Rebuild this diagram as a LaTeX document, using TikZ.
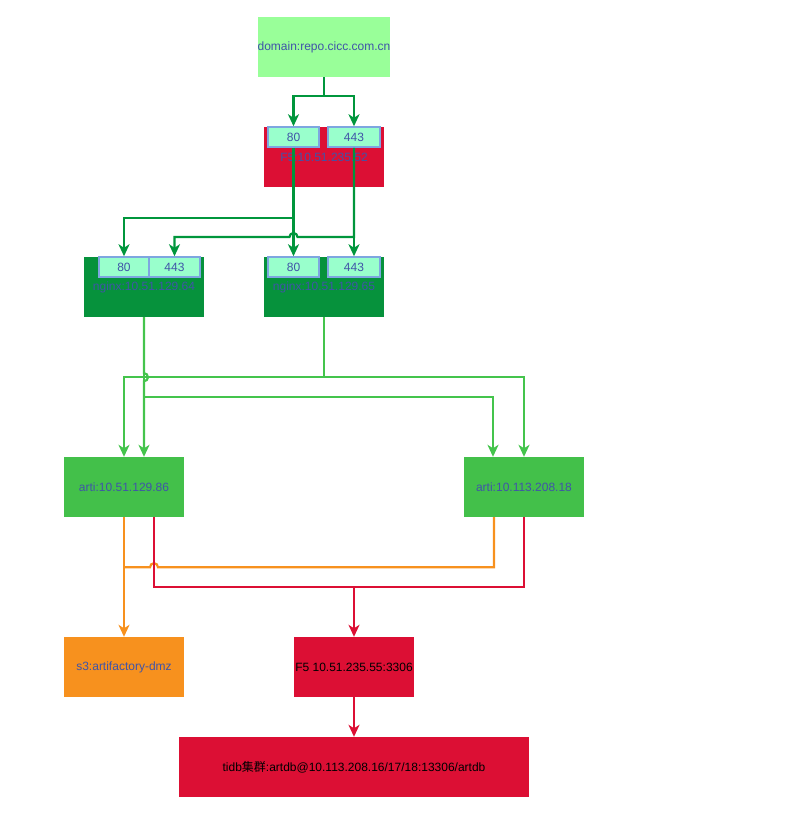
\documentclass[tikz,border=0pt]{standalone}
\usepackage{fontspec}
\setmainfont{Liberation Sans}
\newfontfamily\cjk{Noto Sans CJK SC}
\usetikzlibrary{arrows.meta,calc}

\definecolor{txtblue}{RGB}{64,84,168}
\definecolor{domfill}{RGB}{153,255,153}
\definecolor{crim}{RGB}{220,15,52}
\definecolor{ngfill}{RGB}{6,146,60}
\definecolor{artfill}{RGB}{67,192,74}
\definecolor{orfill}{RGB}{247,145,30}
\definecolor{portfill}{RGB}{153,255,204}
\definecolor{portline}{RGB}{126,166,224}
\definecolor{dgline}{RGB}{0,150,60}
\definecolor{lgline}{RGB}{68,196,76}
\definecolor{orline}{RGB}{247,145,30}
\definecolor{rdline}{RGB}{220,15,52}

\tikzset{
  box/.style={rectangle, inner sep=0pt, minimum width=120pt, minimum height=60pt,
    font=\fontsize{12pt}{14pt}\selectfont, text=txtblue},
  port/.style={rectangle, inner sep=0pt, minimum height=20pt, fill=portfill,
    draw=portline, line width=1.5pt, font=\fontsize{12pt}{14pt}\selectfont, text=txtblue},
  conn/.style={line width=2.2pt, -{Stealth[length=12pt,width=11pt,inset=3.5pt]}},
  wire/.style={line width=2.2pt},
}

\begin{document}
\begin{tikzpicture}[x=1pt,y=-1pt]
\useasboundingbox (0,0) rectangle (800,836);

% boxes
\node[box, fill=domfill, minimum width=130pt] (dom) at (324,47) {domain:repo.cicc.com.cn};
\node[box, fill=crim] (f5) at (324,157) {F5:10.51.235.52};
\node[box, fill=ngfill] (n1) at (144,287) {nginx:10.51.129.64};
\node[box, fill=ngfill] (n2) at (324,287) {nginx:10.51.129.65};
\node[box, fill=artfill] (a1) at (124,487) {arti:10.51.129.86};
\node[box, fill=artfill] (a2) at (524,487) {arti:10.113.208.18};
\node[box, fill=orfill] (s3) at (124,667) {s3:artifactory-dmz};
\node[box, fill=crim, text=black] (f5db) at (354,667) {F5 10.51.235.55:3306};
\node[box, fill=crim, text=black, minimum width=350pt] (tidb) at (354,767)
  {tidb{\cjk 集群}:artdb@10.113.208.16/17/18:13306/artdb};

% ports
\node[port, minimum width=51pt] (f5p80) at (293.5,137) {80};
\node[port, minimum width=52pt] (f5p443) at (354,137) {443};
\node[port, minimum width=50pt] (n1p80) at (124,267) {80};
\node[port, minimum width=51pt] (n1p443) at (174.5,267) {443};
\node[port, minimum width=51pt] (n2p80) at (293.5,267) {80};
\node[port, minimum width=52pt] (n2p443) at (354,267) {443};

% domain -> F5 ports
\draw[conn, dgline] (dom.south) -- ++(0,19) -| (f5p80.north);
\draw[conn, dgline] (dom.south) -- ++(0,19) -| (f5p443.north);

% F5 ports -> nginx ports
\draw[conn, dgline] (f5p80.south) -- (n2p80.north);
\draw[conn, dgline] (f5p80.south) -- ++(0,70) -| (n1p80.north);
\draw[conn, dgline] (f5p443.south) -- (n2p443.north);
\coordinate (busA) at (0,237);
\draw[conn, dgline] (f5p443.south) |- ($(f5p80.south |- busA)+(4,0)$)
  arc[start angle=0, end angle=-180, radius=4] -- (n1p443.north |- busA) -- (n1p443.north);

% nginx -> arti
\draw[conn, lgline] (n2.south) -- ++(0,60) -| (a1.north);
\draw[conn, lgline] (n2.south) -- ++(0,60) -| (a2.north);
\draw[conn, lgline] (n1.south) -- ++(0,56) arc[start angle=-90, end angle=90, radius=4]
  -- ($(a1.north)+(20,0)$);
\draw[conn, lgline] (n1.south) |- ($(a2.north)+(-31,-60)$) -- ($(a2.north)+(-31,0)$);

% arti -> s3
\draw[conn, orline] (a1.south) -- (s3.north);
\draw[wire, orline] ($(a2.south)+(-30,0)$) |- ($(a1.south)+(34,50)$)
  arc[start angle=0, end angle=-180, radius=4] -- ($(a1.south)+(0,50)$);

% arti -> F5 db -> tidb
\coordinate (busR) at (0,587);
\draw[wire, rdline] ($(a1.south)+(30,0)$) |- (a2.south |- busR) -- (a2.south);
\draw[conn, rdline] (f5db.north |- busR) -- (f5db.north);
\draw[conn, rdline] (f5db.south) -- (tidb.north);
\end{tikzpicture}
\end{document}
